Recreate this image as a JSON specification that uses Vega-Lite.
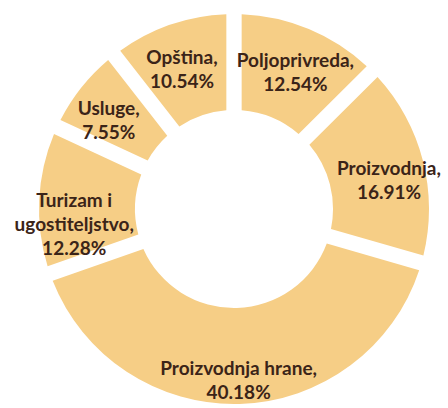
{
  "$schema": "https://vega.github.io/schema/vega-lite/v6.json",
  "autosize": {"type": "fit", "contains": "padding"},
  "width": 448,
  "height": 408,
  "padding": {"left": 20, "right": 0, "top": 10, "bottom": 0},
  "background": "white",
  "data": {
    "values": [
      {"i": 1, "sektor": "Poljoprivreda", "udio": 12.54, "label": ["Poljoprivreda,", "12.54%"]},
      {"i": 2, "sektor": "Proizvodnja", "udio": 16.91, "label": ["Proizvodnja,", "16.91%"]},
      {"i": 3, "sektor": "Proizvodnja hrane", "udio": 40.18, "label": ["Proizvodnja hrane,", "40.18%"]},
      {"i": 4, "sektor": "Turizam i ugostiteljstvo", "udio": 12.28, "label": ["Turizam i", "ugostiteljstvo,", "12.28%"]},
      {"i": 5, "sektor": "Usluge", "udio": 7.55, "label": ["Usluge,", "7.55%"]},
      {"i": 6, "sektor": "Opština", "udio": 10.54, "label": ["Opština,", "10.54%"]}
    ]
  },
  "encoding": {
    "theta": {"field": "udio", "type": "quantitative", "stack": true},
    "order": {"field": "i", "type": "quantitative"}
  },
  "layer": [
    {
      "mark": {"type": "arc", "innerRadius": 99, "outerRadius": 195, "padAngle": 0.07, "color": "#F6CE86"}
    },
    {
      "mark": {"type": "text", "radius": 160, "font": "Lato", "fontWeight": "bold", "fontSize": 19, "color": "#3B2418", "lineHeight": 24, "align": "center", "baseline": "middle"},
      "encoding": {"text": {"field": "label"}}
    }
  ],
  "config": {"view": {"stroke": null}}
}
